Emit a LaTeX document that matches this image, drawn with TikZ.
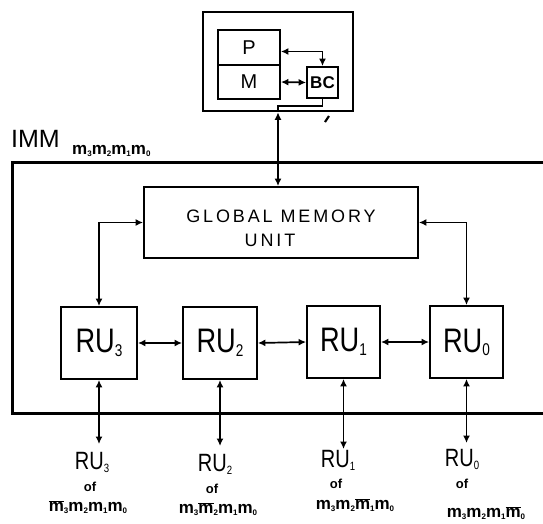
\documentclass[tikz,border=0pt]{standalone}
\usepackage{fontspec}
\setmainfont{Liberation Sans}
\usetikzlibrary{arrows.meta}
\newcommand{\rulab}[4]{\scalebox{0.8}[1]{\fontsize{#1}{#1}\selectfont RU\raisebox{#4}{\fontsize{#2}{#2}\selectfont #3}}}
\newcommand{\msub}[1]{m\raisebox{-2pt}{\fontsize{8}{8}\selectfont #1}}
\newcommand{\mbsub}[1]{$\overline{\mbox{m}}$\raisebox{-2pt}{\fontsize{8}{8}\selectfont #1}}
\tikzset{
  box/.style={draw, line width=1.8pt, rectangle, inner sep=0pt},
  dbl/.style={line width=1.7pt, {Latex[length=7.5pt,width=7pt]}-{Latex[length=7.5pt,width=7pt]}},
  wire/.style={line width=1.7pt},
  lab/.style={inner sep=0pt, align=center},
  mstr/.style={inner sep=0pt, font=\fontsize{17}{17}\selectfont\bfseries},
  ofstr/.style={inner sep=0pt, font=\fontsize{13}{13}\selectfont\bfseries}
}
\begin{document}
\begin{tikzpicture}[x=1pt,y=-1pt]
\useasboundingbox (0,0) rectangle (543,523);
% top unit
\node[box, line width=2.6pt, minimum width=150pt, minimum height=99pt] (topbox) at (278,61.5) {};
\node[box, minimum width=62pt, minimum height=35pt, font=\fontsize{20}{20}\selectfont] (p) at (249,47.5) {P};
\node[box, minimum width=62pt, minimum height=34pt, font=\fontsize{20}{20}\selectfont] (m) at (249,82) {M};
\node[box, minimum width=31pt, minimum height=31pt, font=\fontsize{17}{17}\selectfont\bfseries] (bc) at (322.5,82.5) {BC};
% IMM system box
\draw[line width=3pt] (543,162) -- (12,162) -- (12,413) -- (543,413);
\node[lab, font=\fontsize{25}{25}\selectfont, anchor=west] (imm) at (11,139) {IMM};
\node[mstr, anchor=west] (immsub) at (72,151) {\msub{3}\msub{2}\msub{1}\msub{0}};
% global memory
\node[box, minimum width=274pt, minimum height=71pt] (gmu) at (281,222.5) {};
\node[lab, font=\fontsize{18}{18}\selectfont\addfontfeature{LetterSpace=16}] (gtext) at (281,216) {GLOBAL MEMORY};
\node[lab, font=\fontsize{18}{18}\selectfont\addfontfeature{LetterSpace=16}] (utext) at (270,240) {UNIT};
% RUs
\node[box, minimum width=76pt, minimum height=72pt] (ru3) at (99,343) {\rulab{34}{17}{3}{-4pt}};
\node[box, minimum width=74pt, minimum height=72pt] (ru2) at (220,343) {\rulab{34}{17}{2}{-4pt}};
\node[box, minimum width=73pt, minimum height=72pt] (ru1) at (343.5,342) {\rulab{34}{17}{1}{-4pt}};
\node[box, minimum width=73pt, minimum height=72pt] (ru0) at (466.5,342) {\rulab{34}{17}{0}{-3pt}};
% connectors
\draw[dbl] (topbox.south) -- (topbox.south |- gmu.north);
\draw[wire] (bc.south) -- ++(0,7) -| (topbox.south);
\draw[dbl] ([yshift=-4pt]p.east) -| (bc.north);
\draw[dbl] (m.east) -- (bc.west);
\draw[dbl] (gmu.west) -| (ru3.north);
\draw[dbl] (gmu.east) -| (ru0.north);
\draw[dbl] (ru3.east) -- (ru2.west);
\draw[dbl] (ru2.east) -- (ru1.west);
\draw[dbl] (ru1.east) -- (ru0.west);
\coordinate (o3) at (99,444);
\coordinate (o2) at (220,446);
\coordinate (o1) at (343.5,449);
\coordinate (o0) at (466.5,443);
\draw[dbl] (ru3.south) -- (o3);
\draw[dbl] (ru2.south) -- (o2);
\draw[dbl] (ru1.south) -- (o1);
\draw[dbl] (ru0.south) -- (o0);
\draw[line width=2.2pt] (325,122) -- (329,116);
% output labels
\node[lab] (l3) at (92,462) {\rulab{25}{12}{3}{-3pt}};
\node[ofstr] (f3) at (90,487) {of};
\node[mstr] (s3) at (88,507) {\mbsub{3}\msub{2}\msub{1}\msub{0}};
\node[lab] (l2) at (215,464) {\rulab{25}{12}{2}{-3pt}};
\node[ofstr] (f2) at (212,489) {of};
\node[mstr] (s2) at (218,509) {\msub{3}\mbsub{2}\msub{1}\msub{0}};
\node[lab] (l1) at (338,460) {\rulab{25}{12}{1}{-3pt}};
\node[ofstr] (f1) at (336,484) {of};
\node[mstr] (s1) at (355,505) {\msub{3}\msub{2}\mbsub{1}\msub{0}};
\node[lab] (l0) at (462,459) {\rulab{25}{12}{0}{-3pt}};
\node[ofstr] (f0) at (462,484) {of};
\node[mstr] (s0) at (486,513) {\msub{3}\msub{2}\msub{1}\mbsub{0}};
\end{tikzpicture}
\end{document}
